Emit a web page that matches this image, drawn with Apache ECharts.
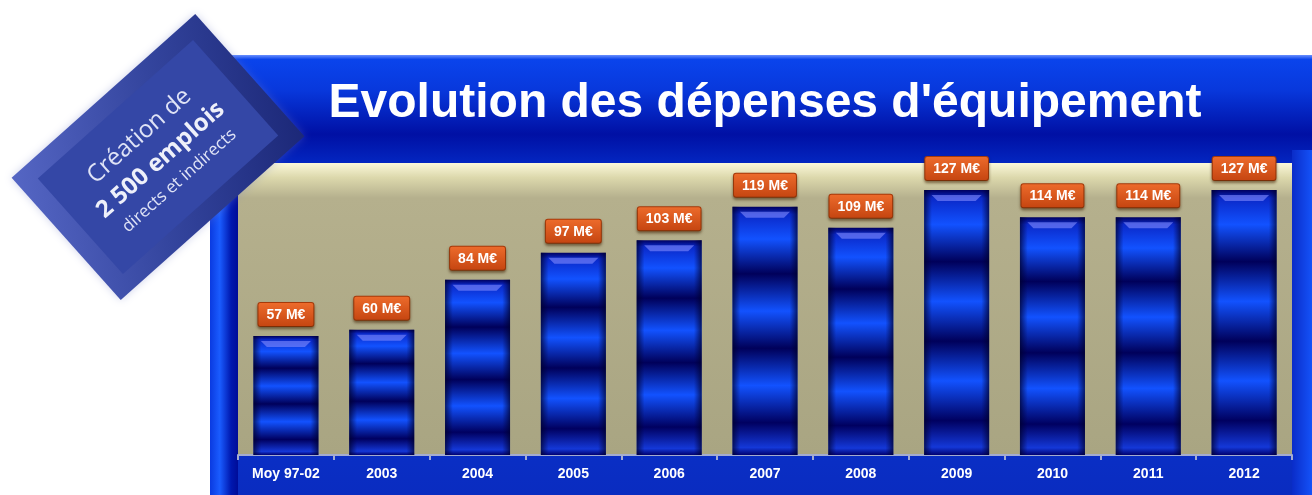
<!DOCTYPE html>
<html>
<head>
<meta charset="utf-8">
<script src="https://cdn.jsdelivr.net/npm/echarts@6/dist/echarts.min.js"></script>
<style>
  html, body { margin: 0; padding: 0; background: #fff; }
  #main { width: 1312px; height: 495px; }
</style>
</head>
<body>
<div id="main"></div>
<script>
var categories = ['Moy 97-02', '2003', '2004', '2005', '2006', '2007', '2008', '2009', '2010', '2011', '2012'];
var values = [57, 60, 84, 97, 103, 119, 109, 127, 114, 114, 127];
var titleText = "Evolution des dépenses d'équipement";
var badgeLines = ['Création de', '2 500 emplois', 'directs et indirects'];

var chartDom = document.getElementById('main');
var box = echarts.init(chartDom);

// bands follow the height of each bar
var bandFill = {
  type: 'linear', x: 0, y: 0, x2: 0, y2: 1,
  colorStops: [
    { offset: 0, color: '#000060' },
    { offset: 0.03, color: '#0a28c8' },
    { offset: 0.13, color: '#1252ff' },
    { offset: 0.27, color: '#00005a' },
    { offset: 0.42, color: '#1252ff' },
    { offset: 0.57, color: '#00005a' },
    { offset: 0.72, color: '#1252ff' },
    { offset: 0.87, color: '#000060' },
    { offset: 0.97, color: '#1438d8' },
    { offset: 1, color: '#000070' }
  ]
};

var option = {
  backgroundColor: '#ffffff',
  animation: false,
  grid: {
    left: 238, right: 20, top: 163, bottom: 40,
    show: true,
    borderWidth: 0,
    backgroundColor: {
      type: 'linear', x: 0, y: 0, x2: 0, y2: 1,
      colorStops: [
        { offset: 0, color: '#fbf8da' },
        { offset: 0.05, color: '#dcd8ac' },
        { offset: 0.12, color: '#b5b08d' },
        { offset: 1, color: '#a9a582' }
      ]
    }
  },
  xAxis: {
    type: 'category',
    data: categories,
    axisLine: { lineStyle: { color: '#a4acd0', width: 2 } },
    axisTick: { show: true, length: 5, lineStyle: { color: '#a4acd0', width: 2 } },
    axisLabel: {
      color: '#ffffff', fontWeight: 'bold', fontSize: 14,
      fontFamily: 'Liberation Sans, Arial, sans-serif', margin: 12
    }
  },
  yAxis: {
    type: 'value', min: 0, max: 140, show: false,
    splitLine: { show: false }
  },
  graphic: [
    {
      type: 'rect', z: -10, silent: true,
      shape: { x: 210, y: 55, width: 1102, height: 440 },
      style: {
        fill: {
          type: 'linear', x: 0, y: 0, x2: 0, y2: 1,
          colorStops: [
            { offset: 0, color: '#6a90ff' },
            { offset: 0.01, color: '#0a44ec' },
            { offset: 0.08, color: '#0838dc' },
            { offset: 0.18, color: '#0010a4' },
            { offset: 0.3, color: '#0638d8' },
            { offset: 0.85, color: '#0a30c8' },
            { offset: 1, color: '#0a2cc0' }
          ]
        }
      }
    },
    {
      type: 'rect', z: -9, silent: true,
      shape: { x: 210, y: 150, width: 28, height: 345 },
      style: {
        fill: {
          type: 'linear', x: 0, y: 0, x2: 1, y2: 0,
          colorStops: [
            { offset: 0, color: '#0a3ae0' },
            { offset: 0.35, color: '#1a5cff' },
            { offset: 0.75, color: '#0018b0' },
            { offset: 1, color: '#000c98' }
          ]
        }
      }
    },
    {
      type: 'rect', z: -9, silent: true,
      shape: { x: 1292, y: 150, width: 20, height: 345 },
      style: {
        fill: {
          type: 'linear', x: 0, y: 0, x2: 1, y2: 0,
          colorStops: [
            { offset: 0, color: '#0a2cc8' },
            { offset: 1, color: '#1452f8' }
          ]
        }
      }
    },
    {
      type: 'text', z: 10, silent: true,
      x: 765, y: 104,
      style: {
        text: titleText,
        fill: '#ffffff',
        font: 'bold 48px "Liberation Sans", Arial, sans-serif',
        textAlign: 'center', textVerticalAlign: 'middle'
      }
    },
    {
      type: 'group', z: 20,
      x: 158, y: 157,
      rotation: 0.728,
      children: [
        {
          type: 'rect',
          shape: { x: -123, y: -82, width: 246, height: 164 },
          style: {
            fill: {
              type: 'linear', x: 0, y: 0, x2: 1, y2: 1,
              colorStops: [
                { offset: 0, color: '#5566c4' },
                { offset: 0.5, color: '#34459e' },
                { offset: 1, color: '#1c2878' }
              ]
            },
            shadowBlur: 8, shadowColor: 'rgba(120,130,200,0.35)'
          }
        },
        {
          type: 'rect',
          shape: { x: -104, y: -64, width: 208, height: 128 },
          style: { fill: '#3447a6' }
        },
        {
          type: 'text',
          x: 0, y: -28,
          style: {
            text: badgeLines[0], fill: '#dfe3f6',
            font: '24px "Open Sans", "Noto Sans", sans-serif',
            textAlign: 'center', textVerticalAlign: 'middle'
          }
        },
        {
          type: 'text',
          x: 0, y: 4,
          style: {
            text: badgeLines[1], fill: '#eef0fa',
            font: 'bold 24px "Open Sans", "Noto Sans", sans-serif',
            textAlign: 'center', textVerticalAlign: 'middle'
          }
        },
        {
          type: 'text',
          x: 0, y: 32,
          style: {
            text: badgeLines[2], fill: '#dfe3f6',
            font: '17px "Open Sans", "Noto Sans", sans-serif',
            textAlign: 'center', textVerticalAlign: 'middle'
          }
        }
      ]
    }
  ],
  series: [
    {
      type: 'bar',
      data: values,
      barWidth: 65,
      silent: true,
      itemStyle: { color: bandFill }
    },
    {
      type: 'bar',
      data: values,
      barWidth: 65,
      barGap: '-100%',
      silent: true,
      itemStyle: {
        color: {
          type: 'linear', x: 0, y: 0, x2: 1, y2: 0,
          colorStops: [
            { offset: 0, color: 'rgba(0,0,40,0.7)' },
            { offset: 0.12, color: 'rgba(0,0,60,0.0)' },
            { offset: 0.88, color: 'rgba(0,0,60,0.0)' },
            { offset: 1, color: 'rgba(0,0,40,0.7)' }
          ]
        }
      },
      label: {
        show: true,
        position: 'top',
        distance: 10,
        formatter: '{c} M€',
        color: '#ffffff',
        fontWeight: 'bold',
        fontSize: 14,
        fontFamily: 'Liberation Sans, Arial, sans-serif',
        backgroundColor: {
          type: 'linear', x: 0, y: 0, x2: 0, y2: 1,
          colorStops: [
            { offset: 0, color: '#ee6c2c' },
            { offset: 1, color: '#c44410' }
          ]
        },
        borderColor: '#a83a0a',
        borderWidth: 1,
        borderRadius: 2,
        padding: [5, 8, 4, 8],
        shadowBlur: 3,
        shadowOffsetY: 2,
        shadowColor: 'rgba(60,30,0,0.5)'
      }
    },
    {
      type: 'pictorialBar',
      data: values,
      silent: true,
      symbol: 'path://M0,0 L100,0 L88,10 L12,10 Z',
      symbolSize: [50, 6],
      symbolPosition: 'end',
      symbolOffset: [0, 5],
      z: 3,
      itemStyle: { color: 'rgba(130,140,255,0.6)' }
    }
  ]
};

option && box.setOption(option);
</script>
</body>
</html>
